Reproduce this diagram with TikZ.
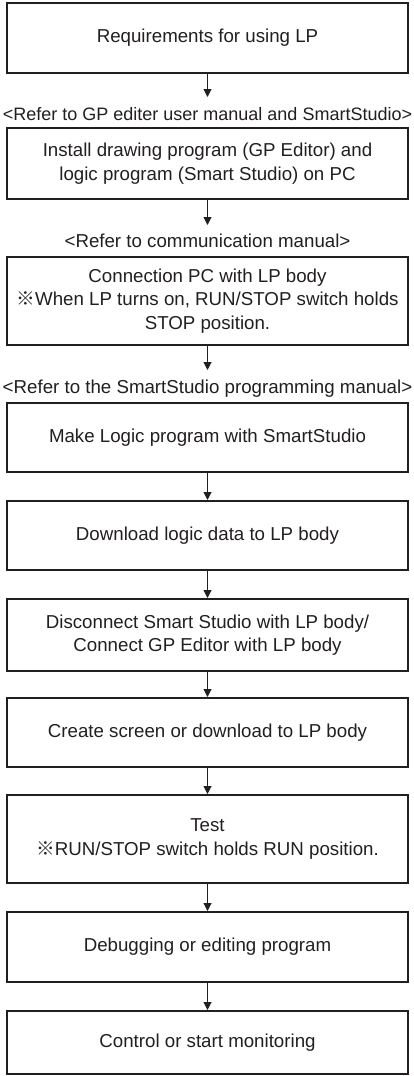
\documentclass[tikz,border=0pt]{standalone}
\usepackage{fontspec}
\setmainfont{Liberation Sans}
\newfontfamily\cjkfont{Noto Sans CJK JP}
\usetikzlibrary{arrows.meta}
\definecolor{ink}{RGB}{35,31,32}
\newcommand{\refmark}{{\cjkfont ※}}
\begin{document}
\begin{tikzpicture}[x=1pt,y=-1pt,
  font=\fontsize{18.7}{23.5}\selectfont,
  stepbox/.style={draw=ink, line width=2pt, minimum width=401pt, inner sep=0pt, align=center, text=ink},
  flow/.style={draw=ink, line width=1pt, -{Triangle[length=8pt,width=8pt]}},
  note/.style={anchor=base, inner sep=0pt, text=ink}]
\useasboundingbox (0,0) rectangle (413,1076);
\fill[white] (0,0) rectangle (413,1076);

\node[stepbox, minimum height=70pt] (b1) at (207.5,38) {Requirements for using LP};
\node[note, font=\fontsize{18}{23}\selectfont] (l1) at (207.5,120) {<Refer to GP editer user manual and SmartStudio>};
\node[stepbox, minimum height=71pt] (b2) at (207.5,163.5) {Install drawing program (GP Editor) and\\logic program (Smart Studio) on PC};
\node[note] (l2) at (207.5,247) {<Refer to communication manual>};
\node[stepbox, minimum height=88pt] (b3) at (207.5,301) {Connection PC with LP body\\\refmark When LP turns on, RUN/STOP switch holds\\STOP position.};
\node[note] (l3) at (207.5,393) {<Refer to the SmartStudio programming manual>};
\node[stepbox, minimum height=69pt] (b4) at (207.5,437.5) {Make Logic program with SmartStudio};
\node[stepbox, minimum height=69pt] (b5) at (207.5,535.5) {Download logic data to LP body};
\node[stepbox, minimum height=72pt] (b6) at (207.5,635) {Disconnect Smart Studio with LP body/\\Connect GP Editor with LP body};
\node[stepbox, minimum height=69pt] (b7) at (207.5,732.5) {Create screen or download to LP body};
\node[stepbox, minimum height=88pt] (b8) at (207.5,839) {Test\\\refmark RUN/STOP switch holds RUN position.};
\node[stepbox, minimum height=70pt] (b9) at (207.5,947) {Debugging or editing program};
\node[stepbox, minimum height=63pt] (b10) at (207.5,1042.5) {Control or start monitoring};

\coordinate (t1) at (207.5,97);
\coordinate (t2) at (207.5,225);
\coordinate (t3) at (207.5,370);

\draw[flow] (b1.south) -- (t1);
\draw[flow] (b2.south) -- (t2);
\draw[flow] (b3.south) -- (t3);
\draw[flow] (b4.south) -- (b5.north);
\draw[flow] (b5.south) -- (b6.north);
\draw[flow] (b6.south) -- (b7.north);
\draw[flow] (b7.south) -- (b8.north);
\draw[flow] (b8.south) -- (b9.north);
\draw[flow] (b9.south) -- (b10.north);
\end{tikzpicture}
\end{document}
